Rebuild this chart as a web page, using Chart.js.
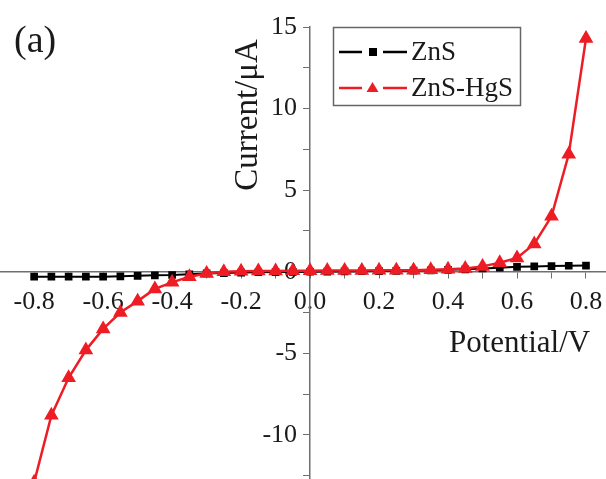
<!DOCTYPE html>
<html>
<head>
<meta charset="utf-8">
<script src="https://cdn.jsdelivr.net/npm/chart.js@4"></script>
<style>
  html, body { margin: 0; padding: 0; background: #fff; }
  #wrap { width: 606px; height: 479px; position: relative; }
</style>
</head>
<body>
<div id="wrap"><canvas id="iv-chart"></canvas></div>
<script>
// potential (V) and current (uA)
const potential = [-0.8, -0.75, -0.7, -0.65, -0.6, -0.55, -0.5, -0.45, -0.4, -0.35, -0.3,
  -0.25, -0.2, -0.15, -0.1, -0.05, 0, 0.05, 0.1, 0.15, 0.2, 0.25, 0.3, 0.35, 0.4,
  0.45, 0.5, 0.55, 0.6, 0.65, 0.7, 0.75, 0.8];
const znsCurrent = [-0.3, -0.3, -0.3, -0.3, -0.3, -0.28, -0.25, -0.22, -0.2, -0.15, -0.1,
  -0.08, -0.05, -0.03, -0.02, -0.01, 0, 0.01, 0.02, 0.03, 0.04, 0.05, 0.07, 0.09, 0.12,
  0.15, 0.2, 0.25, 0.3, 0.33, 0.35, 0.37, 0.38];
const hgsCurrent = [-12.9, -8.8, -6.5, -4.8, -3.5, -2.5, -1.8, -1.05, -0.65, -0.3, -0.1,
  0.0, 0.03, 0.05, 0.05, 0.06, 0.06, 0.07, 0.08, 0.08, 0.09, 0.1, 0.1, 0.12, 0.15,
  0.2, 0.33, 0.55, 0.85, 1.7, 3.4, 7.2, 14.3];
const seriesNames = ['ZnS', 'ZnS-HgS'];

// tick positions (labels only on the major ones)
const xTicks = [-0.8, -0.7, -0.6, -0.5, -0.4, -0.3, -0.2, -0.1, 0, 0.1, 0.2, 0.3, 0.4, 0.5, 0.6, 0.7, 0.8];
const xLabels = ['-0.8', '', '-0.6', '', '-0.4', '', '-0.2', '', '0.0', '', '0.2', '', '0.4', '', '0.6', '', '0.8'];
const yTicks = [-12.5, -10, -7.5, -5, -2.5, 0, 2.5, 5, 7.5, 10, 12.5, 15];
const yLabels = ['', '-10', '', '-5', '', '0', '', '5', '', '10', '', '15'];

const serif = "'Liberation Serif', 'DejaVu Serif', serif";
const axisGray = '#6f6f6f';
const red = '#ee1c24';

function pts(ys) {
  return potential.map((x, i) => ({ x: x, y: ys[i] }));
}

// crossing axes should not eat any layout space
function noSpace(s) {
  s.width = s.isHorizontal() ? s.width : 0;
  s.height = s.isHorizontal() ? 0 : s.height;
  s.paddingLeft = s.paddingRight = s.paddingTop = s.paddingBottom = 0;
}

// legend box + axis titles drawn on the canvas
const extras = {
  id: 'extras',
  afterDraw(chart) {
    const c = chart.ctx;
    c.save();
    c.fillStyle = '#1a1a1a';
    c.textBaseline = 'middle';
    c.font = '38px ' + serif;
    c.fillText('(a)', 14, 42);

    c.font = '31px ' + serif;
    c.fillText('Potential/V', 449, 344);
    c.save();
    c.translate(248, 115);
    c.rotate(-Math.PI / 2);
    c.textAlign = 'center';
    c.font = '33px ' + serif;
    c.fillText('Current/\u03bcA', 0, 0);
    c.restore();

    // legend
    c.strokeStyle = '#666';
    c.lineWidth = 1.5;
    c.strokeRect(333.5, 27.5, 187, 78);
    const ds = chart.data.datasets;
    const rows = [52, 88];
    ds.forEach((d, i) => {
      const y = rows[i];
      c.strokeStyle = d.borderColor;
      c.lineWidth = 2.5;
      c.beginPath();
      c.moveTo(339, y); c.lineTo(362, y);
      c.moveTo(383, y); c.lineTo(407, y);
      c.stroke();
      c.fillStyle = d.borderColor;
      if (d.pointStyle === 'rect') {
        c.fillRect(369, y - 4, 8, 8);
      } else {
        c.beginPath();
        c.moveTo(372.5, y - 6); c.lineTo(378.5, y + 4); c.lineTo(366.5, y + 4);
        c.closePath(); c.fill();
      }
      c.fillStyle = '#1a1a1a';
      c.font = '27px ' + serif;
      c.fillText(d.label, 411, y + 1);
    });
    c.restore();
  }
};

const ctx = document.getElementById('iv-chart').getContext('2d');
const config = {
  type: 'line',
  data: {
    datasets: [{
      label: seriesNames[0],
      data: pts(znsCurrent),
      borderColor: '#000',
      backgroundColor: '#000',
      borderWidth: 2,
      pointStyle: 'rect',
      pointRadius: 4,
      order: 1
    }, {
      label: seriesNames[1],
      data: pts(hgsCurrent),
      borderColor: red,
      backgroundColor: red,
      borderWidth: 2.5,
      pointStyle: 'triangle',
      pointRadius: 6,
      order: 0
    }]
  },
  options: {
    responsive: true,
    maintainAspectRatio: false,
    animation: false,
    layout: { autoPadding: false, padding: { top: 27, left: 0, right: 0, bottom: 0 } },
    plugins: { legend: { display: false }, tooltip: { enabled: false } },
    scales: {
      x: {
        type: 'linear',
        position: { y: 0 },
        min: -0.899,
        max: 0.858,
        afterFit: noSpace,
        afterBuildTicks: (s) => { s.ticks = xTicks.map(v => ({ value: v })); },
        border: { color: axisGray, width: 1.5 },
        grid: { drawOnChartArea: false, drawTicks: true, tickLength: 6, color: axisGray },
        ticks: {
          autoSkip: false,
          maxRotation: 0,
          padding: 9,
          color: '#1a1a1a',
          font: { family: serif, size: 26 },
          callback: (v, i) => xLabels[i]
        }
      },
      y: {
        type: 'linear',
        position: { x: 0 },
        min: -12.7,
        max: 15,
        afterFit: noSpace,
        afterBuildTicks: (s) => { s.ticks = yTicks.map(v => ({ value: v })); },
        border: { color: axisGray, width: 1.5 },
        grid: { drawOnChartArea: false, drawTicks: true, tickLength: 6, color: axisGray },
        ticks: {
          autoSkip: false,
          color: '#1a1a1a',
          font: { family: serif, size: 26 },
          // labels sit right-aligned on the axis here, the spaces push them off it
          callback: (v, i) => (yLabels[i] ? yLabels[i] + '  ' : '')
        }
      }
    }
  },
  plugins: [extras]
};
const ivChart = new Chart(ctx, config);
</script>
</body>
</html>
